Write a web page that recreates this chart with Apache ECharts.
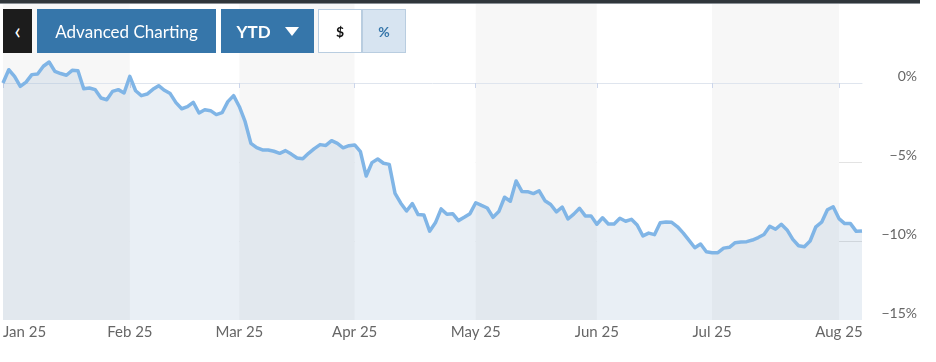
<!DOCTYPE html>
<html>
<head>
<meta charset="utf-8">
<script src="https://cdn.jsdelivr.net/npm/echarts@6/dist/echarts.min.js"></script>
<style>
  html, body { margin: 0; padding: 0; background: #fff; }
  #wrap { position: relative; width: 936px; height: 362px; overflow: hidden; font-family: Lato, "Open Sans", sans-serif; }
  #chart { position: absolute; left: 0; top: 0; width: 936px; height: 362px; }
  #topbar { position: absolute; left: 0; top: 0; width: 920px; height: 4px; background: #30363b; border-bottom: 1px solid #8a9096; box-sizing: border-box; }
  .btn { position: absolute; top: 9px; height: 44px; box-sizing: border-box; display: flex; align-items: center; justify-content: center; }
  #back { left: 3px; width: 29px; background: #1c1c1c; color: #fff; font-size: 24px; font-weight: 400; padding-bottom: 4px; }
  #adv { left: 37px; width: 179px; background: #3676aa; color: #fff; font-size: 17px; }
  #ytd { left: 221px; width: 93px; background: #3676aa; color: #fff; font-size: 17px; font-weight: 700; }
  #ytd .tri { display: inline-block; width: 0; height: 0; border-left: 7px solid transparent; border-right: 7px solid transparent; border-top: 9px solid #fff; margin-left: 14px; }
  #usd { left: 318px; width: 44px; background: #fff; border: 1px solid #b9cde0; color: #111; font-size: 14px; font-weight: 700; }
  #pct { left: 362px; width: 44px; background: #d7e4f1; border: 1px solid #b9cde0; color: #3676aa; font-size: 14px; font-weight: 700; }
</style>
</head>
<body>
<div id="wrap">
  <div id="chart"></div>
  <div id="topbar"></div>
  <div class="btn" id="back">&#8249;</div>
  <div class="btn" id="adv">Advanced Charting</div>
  <div class="btn" id="ytd">YTD<span class="tri"></span></div>
  <div class="btn" id="usd">$</div>
  <div class="btn" id="pct">%</div>
</div>
<script>
// ---- data ----
const baseDate = ['2024-12-31'];
const janDays = [2,3,6,7,8,9,10,13,14,15,16,17,21,22,23,24,27,28,29,30,31];
const febDays = [3,4,5,6,7,10,11,12,13,14,18,19,20,21,24,25,26,27,28];
const marDays = [3,4,5,6,7,10,11,12,13,14,17,18,19,20,21,24,25,26,27,28];
const aprDays = [1,2,3,4,7,8,9,10,11,14,15,16,17,21,22,23,24,25,28,29,30];
const mayDays = [1,2,5,6,7,8,9,12,13,14,15,16,19,20,21,22,23,27,28,29,30];
const junDays = [2,3,4,5,6,9,10,11,12,13,16,17,18,20,23,24,25,26,27,30];
const julDays = [1,2,3,7,8,9,10,11,14,15,16,17,18,21,22,23,24,25,28,29,30,31];
const augDays = [1,4,5,6,7];

const tickLabels = ['Jan 25','Feb 25','Mar 25','Apr 25','May 25','Jun 25','Jul 25','Aug 25'];

// YTD return, percent
const ytdReturn = [
  0, 0.84, 0.42, -0.21, 0.06, 0.53, 0.57, 1.06, 1.33, 0.74,
  0.6, 0.49, 0.80, 0.78, -0.36, -0.32, -0.42, -0.95, -1.06, -0.53,
  -0.42, -0.63, 0.42, -0.49, -0.80, -0.70, -0.4, -0.17, -0.46, -0.67,
  -1.24, -1.63, -1.5, -1.22, -1.90, -1.69, -1.75, -2.0, -1.88, -1.18,
  -0.80, -1.5, -2.45, -3.82, -4.09, -4.24, -4.24, -4.32, -4.45, -4.28,
  -4.5, -4.75, -4.80, -4.45, -4.15, -3.9, -3.95, -3.65, -3.82, -4.1,
  -3.97, -3.92, -4.35, -5.89, -5.04, -4.81, -5.08, -5.15, -6.98, -7.61,
  -8.1, -7.63, -8.33, -8.35, -9.38, -8.85, -7.97, -8.31, -8.27, -8.71,
  -8.5, -8.27, -7.58, -7.75, -7.91, -8.5, -8.14, -7.23, -7.48, -6.2,
  -6.86, -6.88, -7.0, -6.82, -7.45, -7.69, -8.16, -7.85, -8.61, -8.3,
  -7.93, -8.41, -8.41, -8.94, -8.53, -8.92, -8.92, -8.56, -8.75, -8.63,
  -8.99, -9.68, -9.5, -9.6, -8.85, -8.8, -8.82, -9.1, -9.5, -9.96,
  -10.43, -10.19, -10.68, -10.74, -10.74, -10.45, -10.4, -10.11, -10.07, -10.04,
  -9.94, -9.78, -9.59, -9.07, -9.26, -8.94, -9.3, -9.9, -10.3, -10.36,
  -10.0, -9.1, -8.81, -8.02, -7.83, -8.58, -8.9, -8.9, -9.39, -9.36
];

// ---- build categories ----
function pad(n) { return (n < 10 ? '0' : '') + n; }
const monthLists = [janDays, febDays, marDays, aprDays, mayDays, junDays, julDays, augDays];
const dates = baseDate.slice();
monthLists.forEach(function (days, m) {
  days.forEach(function (d) { dates.push('2025-' + pad(m + 1) + '-' + pad(d)); });
});

// the year-end base point belongs to the January period
function monthKey(d) { return d.slice(0, 4) === '2024' ? '2025-01' : d.slice(0, 7); }
function isMonthStart(index) {
  if (index === 0) return true;
  return monthKey(dates[index]) !== monthKey(dates[index - 1]);
}
function monthLabel(value) {
  return tickLabels[parseInt(monthKey(value).slice(5, 7), 10) - 1];
}
const axisData = dates.map(function (d, i) {
  return i === 0 ? { value: d, textStyle: { align: 'left' } } : d;
});

const chart = echarts.init(document.getElementById('chart'), null, { renderer: 'canvas' });
chart.setOption({
  animation: false,
  backgroundColor: '#ffffff',
  grid: { left: 3, right: 74, top: 4, bottom: 42, containLabel: false, outerBoundsMode: 'none' },
  xAxis: {
    type: 'category',
    data: axisData,
    boundaryGap: false,
    axisLine: { show: true, lineStyle: { color: '#dfe5ee', width: 1 } },
    axisTick: { show: true, interval: isMonthStart, length: 5, lineStyle: { color: '#ccd6eb' } },
    axisLabel: {
      interval: isMonthStart,
      formatter: monthLabel,
      color: '#666666',
      fontFamily: 'Lato',
      fontSize: 15,
      margin: 5,
      alignMinLabel: 'left'
    },
    splitLine: { show: false },
    splitArea: { show: true, interval: isMonthStart, areaStyle: { color: ['#f7f7f7', '#ffffff'] } }
  },
  yAxis: {
    type: 'value',
    position: 'right',
    min: -15,
    max: 5,
    interval: 5,
    axisLine: { show: false },
    axisTick: { show: false },
    splitLine: { show: true, showMaxLine: false, showMinLine: false, lineStyle: { color: '#e3e3e3', width: 1 } },
    axisLabel: {
      color: '#666666',
      fontFamily: 'Lato',
      fontSize: 14,
      align: 'right',
      verticalAlign: 'bottom',
      margin: 55,
      formatter: function (v) {
        if (v === 5) return '';
        return (v < 0 ? '\u2212' : '') + Math.abs(v) + '%';
      }
    }
  },
  series: [{
    type: 'line',
    data: ytdReturn,
    showSymbol: false,
    symbol: 'none',
    smooth: false,
    lineStyle: { color: '#80b5e6', width: 3.5, join: 'round' },
    areaStyle: { color: 'rgba(70,115,170,0.17)', origin: 'start' },
    z: 3
  }]
});
</script>
</body>
</html>
